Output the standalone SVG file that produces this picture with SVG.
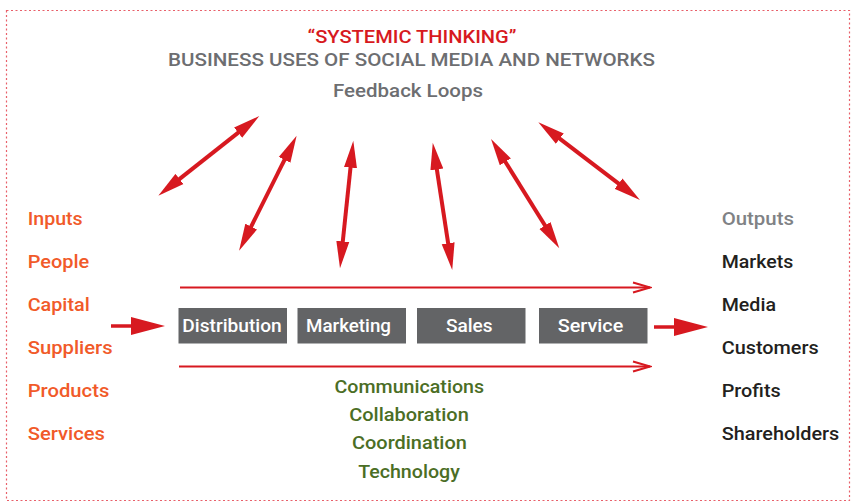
<svg xmlns="http://www.w3.org/2000/svg" width="853" height="502" viewBox="0 0 853 502">
  <style>
    .t { font-family: Roboto, "Liberation Sans", Arial, sans-serif; font-weight: 500; }
    .red { fill: #d71920; }
    .grey { fill: #6d6e71; }
    .in { fill: #f15a29; font-size: 17.5px; }
    .out { fill: #231f20; font-size: 17.5px; }
    .outh { fill: #808285; font-size: 17.5px; }
    .sup { fill: #4b6e25; font-size: 17.5px; text-anchor: middle; }
    .box { fill: #636466; }
    .boxt { fill: #ffffff; font-size: 17.5px; text-anchor: middle; }
    .fb { stroke: #d71920; stroke-width: 4; fill: none; marker-start: url(#head); marker-end: url(#head); }
    .flow { stroke: #d71920; stroke-width: 2; fill: none; marker-end: url(#open); }
    .io { stroke: #d71920; stroke-width: 3.5; fill: none; marker-end: url(#big); }
  </style>
  <defs>
    <marker id="head" markerUnits="userSpaceOnUse" viewBox="-1 -7 28 14" refX="0" refY="0" markerWidth="28" markerHeight="14" orient="auto-start-reverse">
      <path d="M-1,-6.5 L26,0 L-1,6.5 Z" fill="#d71920"/>
    </marker>
    <marker id="open" markerUnits="userSpaceOnUse" viewBox="-19 -7 21 14" refX="0" refY="0" markerWidth="21" markerHeight="14" orient="auto">
      <path d="M-17,-5 L0,0 L-17,5" fill="none" stroke="#d71920" stroke-width="2"/>
    </marker>
    <marker id="big" markerUnits="userSpaceOnUse" viewBox="-1 -10 35 20" refX="0" refY="0" markerWidth="35" markerHeight="20" orient="auto">
      <path d="M-1,-9 L33,0 L-1,9 Z" fill="#d71920"/>
    </marker>
  </defs>

  <!-- dotted frame -->
  <rect x="6.5" y="10.5" width="843" height="490" fill="none" stroke="#e8606a" stroke-width="1.2" stroke-dasharray="2 2.5"/>

  <g id="header" class="t">
    <text x="412" y="42.5" class="red" font-size="19" text-anchor="middle" textLength="209" lengthAdjust="spacingAndGlyphs">“SYSTEMIC THINKING”</text>
    <text x="411.5" y="65.5" class="grey" font-size="17.5" text-anchor="middle" textLength="487" lengthAdjust="spacingAndGlyphs">BUSINESS USES OF SOCIAL MEDIA AND NETWORKS</text>
  </g>
  <g id="feedback-loops" class="t">
    <text x="408" y="96.5" class="grey" font-size="18.5" text-anchor="middle" textLength="150" lengthAdjust="spacingAndGlyphs">Feedback Loops</text>
  </g>

  <g id="inputs" class="t">
    <text x="27.7" y="225" class="in" textLength="55" lengthAdjust="spacingAndGlyphs">Inputs</text>
    <text x="27.7" y="268" class="in" textLength="61.6" lengthAdjust="spacingAndGlyphs">People</text>
    <text x="27.7" y="311" class="in" textLength="62" lengthAdjust="spacingAndGlyphs">Capital</text>
    <text x="27.7" y="354" class="in" textLength="85" lengthAdjust="spacingAndGlyphs">Suppliers</text>
    <text x="27.7" y="397" class="in" textLength="81.6" lengthAdjust="spacingAndGlyphs">Products</text>
    <text x="27.7" y="440" class="in" textLength="77.3" lengthAdjust="spacingAndGlyphs">Services</text>
  </g>

  <g id="outputs" class="t">
    <text x="721.7" y="225" class="outh" textLength="72.3" lengthAdjust="spacingAndGlyphs">Outputs</text>
    <text x="721.7" y="268" class="out" textLength="71.6" lengthAdjust="spacingAndGlyphs">Markets</text>
    <text x="721.7" y="311" class="out" textLength="54.3" lengthAdjust="spacingAndGlyphs">Media</text>
    <text x="721.7" y="354" class="out" textLength="97" lengthAdjust="spacingAndGlyphs">Customers</text>
    <text x="721.7" y="397" class="out" textLength="59" lengthAdjust="spacingAndGlyphs">Profits</text>
    <text x="721.7" y="440" class="out" textLength="117.6" lengthAdjust="spacingAndGlyphs">Shareholders</text>
  </g>

  <g id="distribution" class="t">
    <rect class="box" x="178.5" y="308" width="108.5" height="35.5"/>
    <text class="boxt" x="232" y="332" textLength="99.4" lengthAdjust="spacingAndGlyphs">Distribution</text>
  </g>
  <g id="marketing" class="t">
    <rect class="box" x="297.5" y="308" width="108.5" height="35.5"/>
    <text class="boxt" x="348.5" y="332" textLength="85" lengthAdjust="spacingAndGlyphs">Marketing</text>
  </g>
  <g id="sales" class="t">
    <rect class="box" x="417" y="308" width="108.5" height="35.5"/>
    <text class="boxt" x="469.3" y="332" textLength="46.7" lengthAdjust="spacingAndGlyphs">Sales</text>
  </g>
  <g id="service" class="t">
    <rect class="box" x="539" y="308" width="108.5" height="35.5"/>
    <text class="boxt" x="590.5" y="332" textLength="65.6" lengthAdjust="spacingAndGlyphs">Service</text>
  </g>

  <g id="support" class="t">
    <text class="sup" x="409.3" y="392.5" textLength="149.5" lengthAdjust="spacingAndGlyphs">Communications</text>
    <text class="sup" x="409" y="420.5" textLength="119.7" lengthAdjust="spacingAndGlyphs">Collaboration</text>
    <text class="sup" x="409.4" y="449" textLength="114.8" lengthAdjust="spacingAndGlyphs">Coordination</text>
    <text class="sup" x="409" y="477.5" textLength="101.7" lengthAdjust="spacingAndGlyphs">Technology</text>
  </g>

  <g id="connectors">
    <!-- feedback loops -->
    <line class="fb" x1="178.7" y1="179.6" x2="238.9" y2="132.1"/>
    <line class="fb" x1="250.7" y1="227.5" x2="285.0" y2="158.9"/>
    <line class="fb" x1="342.7" y1="242.4" x2="350.6" y2="166.6"/>
    <line class="fb" x1="448.3" y1="244.3" x2="436.7" y2="168.4"/>
    <line class="fb" x1="545.5" y1="226.3" x2="504.8" y2="161.0"/>
    <line class="fb" x1="619.3" y1="184.2" x2="559.0" y2="138.1"/>
    <!-- process flow -->
    <line class="flow" x1="180" y1="287.5" x2="650" y2="287.5"/>
    <line class="flow" x1="179" y1="366.5" x2="650" y2="366.5"/>
    <!-- in / out -->
    <line class="io" x1="111" y1="326" x2="132" y2="326"/>
    <line class="io" x1="654" y1="327" x2="675" y2="327"/>
  </g>
</svg>
